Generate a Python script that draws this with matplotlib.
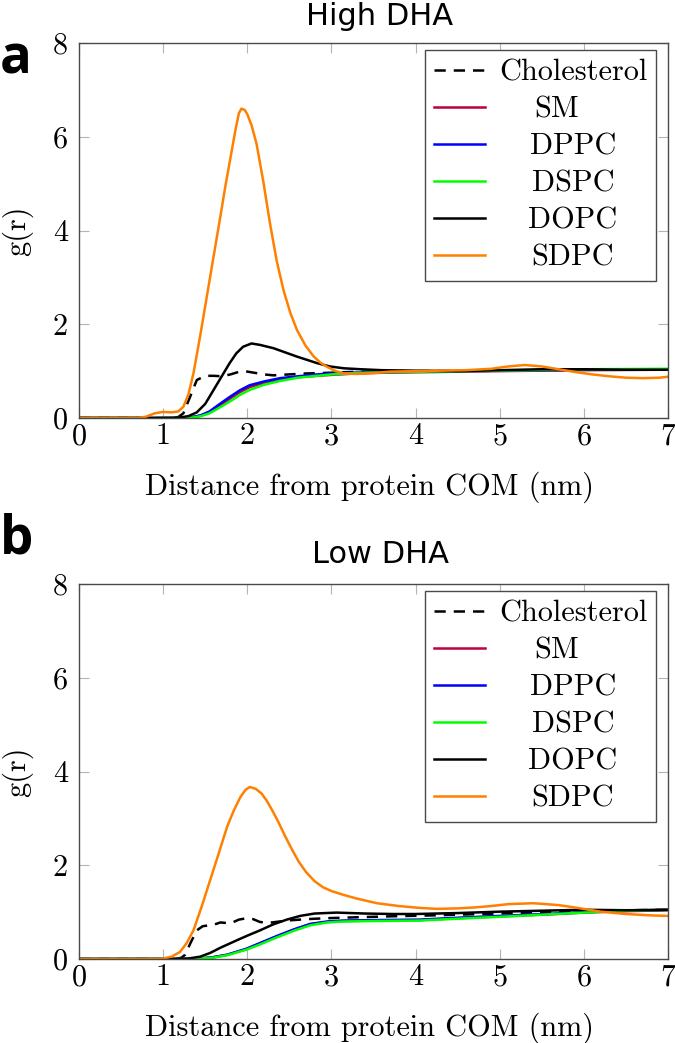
import numpy as np
import matplotlib
matplotlib.use('Agg')
import matplotlib.pyplot as plt

# ------------------------------------------------------------------
# data (x in nm, g(r))
# ------------------------------------------------------------------
series_names = ['Cholesterol', 'SM', 'DPPC', 'DSPC', 'DOPC', 'SDPC']

# --- High DHA (panel a)
hi_chol_x = [0, 1.10, 1.18, 1.24, 1.32, 1.40, 1.50, 1.60, 1.70, 1.80, 1.91, 2.00, 2.10, 2.20, 2.31,
             2.50, 2.70, 2.90, 3.20, 3.60, 4.00, 5.00, 6.00, 7.00]
hi_chol_g = [0, 0, 0.02, 0.10, 0.45, 0.81, 0.90, 0.90, 0.89, 0.93, 0.99, 0.99, 0.96, 0.93, 0.91,
             0.93, 0.95, 0.96, 0.98, 1.00, 1.00, 1.01, 1.03, 1.04]

hi_sm_x = [0, 1.20, 1.35, 1.45, 1.55, 1.65, 1.80, 1.92, 2.03, 2.20, 2.39, 2.60, 2.83, 3.00, 3.30,
           3.70, 4.20, 5.00, 6.00, 7.00]
hi_sm_g = [0, 0, 0.02, 0.05, 0.12, 0.24, 0.42, 0.56, 0.66, 0.75, 0.82, 0.87, 0.90, 0.92, 0.95,
           0.97, 0.98, 1.00, 1.02, 1.03]

hi_dppc_x = hi_sm_x
hi_dppc_g = [0, 0, 0.02, 0.06, 0.14, 0.27, 0.46, 0.60, 0.70, 0.78, 0.85, 0.89, 0.93, 0.95, 0.97,
             0.98, 0.99, 1.01, 1.03, 1.04]

hi_dspc_x = hi_sm_x
hi_dspc_g = [0, 0, 0.01, 0.04, 0.10, 0.20, 0.36, 0.50, 0.60, 0.71, 0.79, 0.86, 0.90, 0.93, 0.96,
             0.98, 0.99, 1.01, 1.04, 1.05]

hi_dopc_x = [0, 1.00, 1.20, 1.30, 1.40, 1.50, 1.60, 1.70, 1.79, 1.87, 1.95, 2.05, 2.15, 2.31, 2.45,
             2.59, 2.71, 2.83, 2.98, 3.15, 3.35, 3.60, 4.00, 4.50, 5.00, 5.50, 6.00, 6.50, 7.00]
hi_dopc_g = [0, 0, 0.01, 0.04, 0.12, 0.30, 0.60, 0.90, 1.17, 1.38, 1.52, 1.59, 1.56, 1.49, 1.40,
             1.31, 1.24, 1.17, 1.10, 1.06, 1.04, 1.02, 1.01, 1.00, 1.02, 1.04, 1.04, 1.03, 1.03]

hi_sdpc_x = [0, 0.70, 0.80, 0.90, 1.00, 1.10, 1.18, 1.24, 1.30, 1.36, 1.44, 1.52, 1.60, 1.68, 1.74,
             1.80, 1.86, 1.90, 1.93, 1.97, 2.00, 2.05, 2.11, 2.19, 2.27, 2.35, 2.43, 2.51, 2.59,
             2.69, 2.79, 2.87, 2.95, 3.05, 3.15, 3.30, 3.50, 3.70, 4.00, 4.30, 4.60, 4.90, 5.10,
             5.30, 5.50, 5.70, 5.90, 6.10, 6.30, 6.50, 6.70, 6.90, 7.00]
hi_sdpc_g = [0, 0, 0.03, 0.10, 0.13, 0.12, 0.14, 0.24, 0.50, 0.95, 1.75, 2.60, 3.45, 4.30, 4.95,
             5.55, 6.15, 6.50, 6.60, 6.57, 6.48, 6.25, 5.85, 5.05, 4.15, 3.35, 2.73, 2.25, 1.88,
             1.55, 1.31, 1.18, 1.09, 1.00, 0.95, 0.94, 0.96, 0.99, 1.00, 1.01, 1.02, 1.05, 1.10,
             1.13, 1.10, 1.04, 0.98, 0.93, 0.89, 0.86, 0.85, 0.86, 0.88]

# --- Low DHA (panel b)
lo_chol_x = [0, 1.15, 1.22, 1.26, 1.33, 1.40, 1.47, 1.60, 1.68, 1.80, 1.90, 1.99, 2.07, 2.15, 2.25,
             2.47, 2.70, 2.94, 3.30, 3.70, 4.20, 4.80, 5.50, 6.00, 6.50, 7.00]
lo_chol_g = [0, 0, 0.03, 0.09, 0.36, 0.61, 0.70, 0.73, 0.78, 0.76, 0.84, 0.87, 0.85, 0.79, 0.77,
             0.82, 0.85, 0.87, 0.89, 0.91, 0.93, 0.96, 1.00, 1.03, 1.04, 1.05]

lo_sm_x = [0, 1.30, 1.44, 1.60, 1.76, 1.99, 2.15, 2.35, 2.55, 2.75, 2.95, 3.14, 3.50, 4.05, 4.50,
           5.00, 5.56, 6.00, 6.50, 7.00]
lo_sm_g = [0, 0, 0.01, 0.04, 0.09, 0.21, 0.33, 0.48, 0.62, 0.74, 0.79, 0.81, 0.82, 0.83, 0.87,
           0.91, 0.95, 0.99, 1.02, 1.04]

lo_dppc_x = lo_sm_x
lo_dppc_g = [0, 0, 0.01, 0.04, 0.09, 0.22, 0.34, 0.49, 0.63, 0.75, 0.80, 0.82, 0.83, 0.84, 0.88,
             0.92, 0.96, 1.00, 1.03, 1.05]

lo_dspc_x = lo_sm_x
lo_dspc_g = [0, 0, 0.01, 0.03, 0.08, 0.20, 0.31, 0.46, 0.60, 0.72, 0.78, 0.80, 0.81, 0.82, 0.86,
             0.90, 0.95, 0.99, 1.03, 1.05]

lo_dopc_x = [0, 1.08, 1.30, 1.44, 1.56, 1.68, 1.84, 1.99, 2.15, 2.31, 2.47, 2.63, 2.80, 3.06, 3.40,
             3.73, 4.00, 4.50, 5.00, 5.50, 6.00, 6.50, 7.00]
lo_dopc_g = [0, 0, 0.01, 0.05, 0.13, 0.24, 0.37, 0.49, 0.61, 0.74, 0.84, 0.92, 0.97, 0.99, 0.97,
             0.96, 0.96, 0.98, 1.01, 1.03, 1.05, 1.04, 1.05]

lo_sdpc_x = [0, 0.90, 1.00, 1.10, 1.20, 1.28, 1.36, 1.46, 1.56, 1.66, 1.76, 1.84, 1.92, 1.98, 2.03,
             2.10, 2.17, 2.23, 2.30, 2.37, 2.45, 2.53, 2.61, 2.70, 2.80, 2.90, 3.00, 3.14, 3.30,
             3.54, 3.80, 4.05, 4.25, 4.50, 4.70, 4.90, 5.10, 5.40, 5.70, 5.96, 6.20, 6.50, 6.80,
             7.00]
lo_sdpc_g = [0, 0, 0.01, 0.05, 0.15, 0.34, 0.61, 1.13, 1.69, 2.25, 2.82, 3.17, 3.46, 3.61, 3.67,
             3.63, 3.53, 3.38, 3.16, 2.92, 2.62, 2.34, 2.08, 1.85, 1.66, 1.53, 1.45, 1.37, 1.29,
             1.19, 1.13, 1.09, 1.07, 1.08, 1.10, 1.13, 1.17, 1.19, 1.15, 1.08, 1.01, 0.96, 0.93,
             0.92]

hi_data = [(hi_chol_x, hi_chol_g), (hi_sm_x, hi_sm_g), (hi_dppc_x, hi_dppc_g),
           (hi_dspc_x, hi_dspc_g), (hi_dopc_x, hi_dopc_g), (hi_sdpc_x, hi_sdpc_g)]
lo_data = [(lo_chol_x, lo_chol_g), (lo_sm_x, lo_sm_g), (lo_dppc_x, lo_dppc_g),
           (lo_dspc_x, lo_dspc_g), (lo_dopc_x, lo_dopc_g), (lo_sdpc_x, lo_sdpc_g)]

x_ticks = [0, 1, 2, 3, 4, 5, 6, 7]
y_ticks = [0, 2, 4, 6, 8]

# ------------------------------------------------------------------
# styles
# ------------------------------------------------------------------
colors = ['black', '#bf0040', '#0000ff', '#00ff00', 'black', '#ff8000']
styles = [(0, (4.5, 3.2)), '-', '-', '-', '-', '-']
LW = 1.8
CM = 'cmr10'
FS = 21.8

plt.rcParams['axes.formatter.use_mathtext'] = True
plt.rcParams['mathtext.fontset'] = 'cm'


def draw_panel(ax, data):

    for (x, g), c, ls, name in zip(data, colors, styles, series_names):
        ax.plot(x, g, color=c, ls=ls, lw=LW, label=name)

    ax.set_xlim(0, 7)
    ax.set_ylim(0, 8)
    ax.set_xticks(x_ticks)
    ax.set_yticks(y_ticks)
    ax.set_xticklabels([str(t) for t in x_ticks], family=CM, fontsize=FS)
    ax.set_yticklabels([str(t) for t in y_ticks], family=CM, fontsize=FS)
    ax.tick_params(direction='in', top=True, right=True, length=7, width=0.8,
                   color='#b4b4b4')
    ax.tick_params(axis='x', pad=3.5)
    ax.tick_params(axis='y', pad=8)
    for sp in ax.spines.values():
        sp.set_color('#4a4a4a')
        sp.set_linewidth(1.0)

    ax.set_xlabel('Distance from protein COM (nm)', family=CM, fontsize=FS)
    ax.xaxis.set_label_coords(0.494, -0.143)
    ax.xaxis.label.set_va('top')
    ax.set_ylabel('g(r)', family=CM, fontsize=FS)
    ax.yaxis.set_label_coords(-0.078, 0.5)

    leg = ax.legend(loc='upper right', bbox_to_anchor=(0.98, 0.982), prop={'family': CM, 'size': FS},
                    frameon=True, fancybox=False, framealpha=1.0, edgecolor='#4a4a4a',
                    handlelength=1.7, handletextpad=0.45, borderpad=0.3,
                    labelspacing=0.32, borderaxespad=0.0)
    leg.get_frame().set_linewidth(1.0)
    return leg


fig = plt.figure(figsize=(6.75, 10.43), dpi=100)
ax_a = fig.add_axes([79 / 675, 1 - 418 / 1043, 589 / 675, 375 / 1043])
ax_b = fig.add_axes([79 / 675, 1 - 959 / 1043, 589 / 675, 375 / 1043])

legs = [draw_panel(ax_a, hi_data), draw_panel(ax_b, lo_data)]

fig.text(380 / 675, 1 - 25 / 1043, 'High DHA', ha='center', va='baseline', fontsize=22,
         family='DejaVu Sans')
fig.text(380 / 675, 1 - 563 / 1043, 'Low DHA', ha='center', va='baseline', fontsize=22,
         family='DejaVu Sans')
fig.text(0.0, 1 - 73 / 1043, 'a', ha='left', va='baseline', fontsize=38,
         family='Open Sans', weight='bold')
fig.text(0.0, 1 - 553 / 1043, 'b', ha='left', va='baseline', fontsize=38,
         family='Open Sans', weight='bold')

# centre the legend entries like pgfplots does
fig.canvas.draw()
r = fig.canvas.get_renderer()
label_shift = {'SM': -16}
for leg in legs:
    texts = leg.get_texts()
    widths = [t.get_window_extent(r).width for t in texts]
    w_max = max(widths)
    for t, w in zip(texts, widths):
        t.set_x((w_max - w) / 2 + label_shift.get(t.get_text(), 0))

fig.savefig('out.png', dpi=100)
